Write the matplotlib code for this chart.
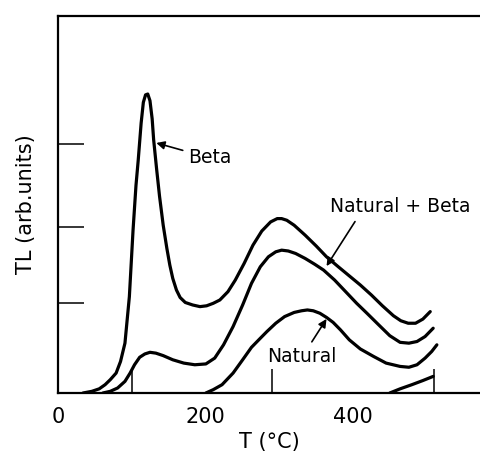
import matplotlib.pyplot as plt

# temperature (deg C) and TL (arb. units)
beta_t = [33, 45, 55, 63, 70, 78, 84, 90, 96, 101, 105, 108, 112, 115, 118, 121, 124, 127,
          129, 133, 137, 142, 147, 151, 155, 160, 165, 172, 182, 192, 201, 210, 219, 230,
          240, 252, 264, 276, 288, 297, 303, 310, 320, 335, 350, 364, 380, 395, 410, 425,
          440, 455, 465, 475, 485, 495, 505]
beta_tl = [0.0, 0.02, 0.05, 0.1, 0.16, 0.24, 0.38, 0.6, 1.16, 1.96, 2.5, 2.8, 3.25, 3.5,
           3.59, 3.6, 3.52, 3.3, 3.05, 2.7, 2.37, 2.02, 1.74, 1.54, 1.38, 1.24, 1.15, 1.09,
           1.06, 1.04, 1.05, 1.08, 1.12, 1.22, 1.36, 1.56, 1.78, 1.95, 2.06, 2.1, 2.1,
           2.08, 2.02, 1.9, 1.77, 1.64, 1.52, 1.41, 1.3, 1.18, 1.05, 0.93, 0.87, 0.84,
           0.84, 0.89, 0.98]

natbeta_t = [60, 70, 80, 90, 97, 103, 110, 117, 124, 132, 142, 155, 170, 185, 200, 212,
             224, 237, 250, 262, 274, 285, 295, 303, 312, 322, 335, 348, 360, 375, 390,
             405, 419, 435, 450, 464, 476, 487, 498, 509]
natbeta_tl = [0.0, 0.02, 0.06, 0.14, 0.24, 0.34, 0.43, 0.47, 0.49, 0.48, 0.45, 0.4, 0.36,
              0.34, 0.35, 0.42, 0.58, 0.8, 1.06, 1.32, 1.52, 1.64, 1.7, 1.72, 1.71, 1.68,
              1.62, 1.55, 1.48, 1.36, 1.22, 1.08, 0.96, 0.82, 0.69, 0.61, 0.6, 0.62, 0.68,
              0.78]

nat_t = [200, 210, 222, 237, 250, 262, 273, 283, 295, 307, 320, 330, 338, 346, 355, 364,
         373, 383, 395, 410, 428, 445, 464, 476, 487, 498, 507, 514]
nat_tl = [0.0, 0.04, 0.1, 0.24, 0.4, 0.55, 0.65, 0.74, 0.84, 0.92, 0.97, 0.99, 1.0, 0.99,
          0.96, 0.91, 0.85, 0.76, 0.64, 0.53, 0.44, 0.36, 0.32, 0.31, 0.34, 0.42, 0.5, 0.58]

tail_t = [450, 464, 480, 495, 509]
tail_tl = [0.0, 0.05, 0.1, 0.15, 0.2]

fig = plt.figure(figsize=(4.81, 4.59), dpi=100)
ax = fig.add_axes([0.1206, 0.1438, 0.8794, 0.8214])

for t, tl in [(beta_t, beta_tl), (natbeta_t, natbeta_tl), (nat_t, nat_tl), (tail_t, tail_tl)]:
    ax.plot(t, tl, color='black', lw=2.3, solid_capstyle='round', solid_joinstyle='round')

ax.set_xlim(-1, 574)
ax.set_ylim(0, 4.54)
ax.spines['right'].set_visible(False)
for s in ['left', 'bottom', 'top']:
    ax.spines[s].set_linewidth(1.6)

ax.set_xticks([0, 200, 400])
ax.set_xticklabels(['0', '200', '400'], fontsize=15)
ax.tick_params(axis='x', length=0, pad=10)
ax.set_xticks([100, 200, 290, 400, 510], minor=True)
ax.tick_params(axis='x', which='minor', direction='in', length=17, width=1.1)
ax.set_yticks([1.08, 2.0, 3.0])
ax.set_yticklabels([])
ax.tick_params(axis='y', direction='in', length=19, width=1.1)

ax.set_xlabel('T (°C)', fontsize=15, labelpad=4)
ax.set_ylabel('TL (arb.units)', fontsize=15, labelpad=12)

arrow = dict(arrowstyle='-|>', color='black', lw=1.2, mutation_scale=12)
ax.annotate('Beta', xy=(129, 3.02), xytext=(176, 2.83), fontsize=13.5, va='center', ha='left',
            arrowprops=arrow)
ax.annotate('Natural + Beta', xy=(362, 1.5), xytext=(369, 2.24), fontsize=13.5, va='center',
            ha='left', arrowprops=dict(arrow, relpos=(0.2, 0.0)))
ax.annotate('Natural', xy=(366, 0.92), xytext=(283, 0.44), fontsize=13.5, va='center',
            ha='left', arrowprops=dict(arrow, relpos=(0.6, 1.0)))

fig.savefig('out.png', dpi=100)
